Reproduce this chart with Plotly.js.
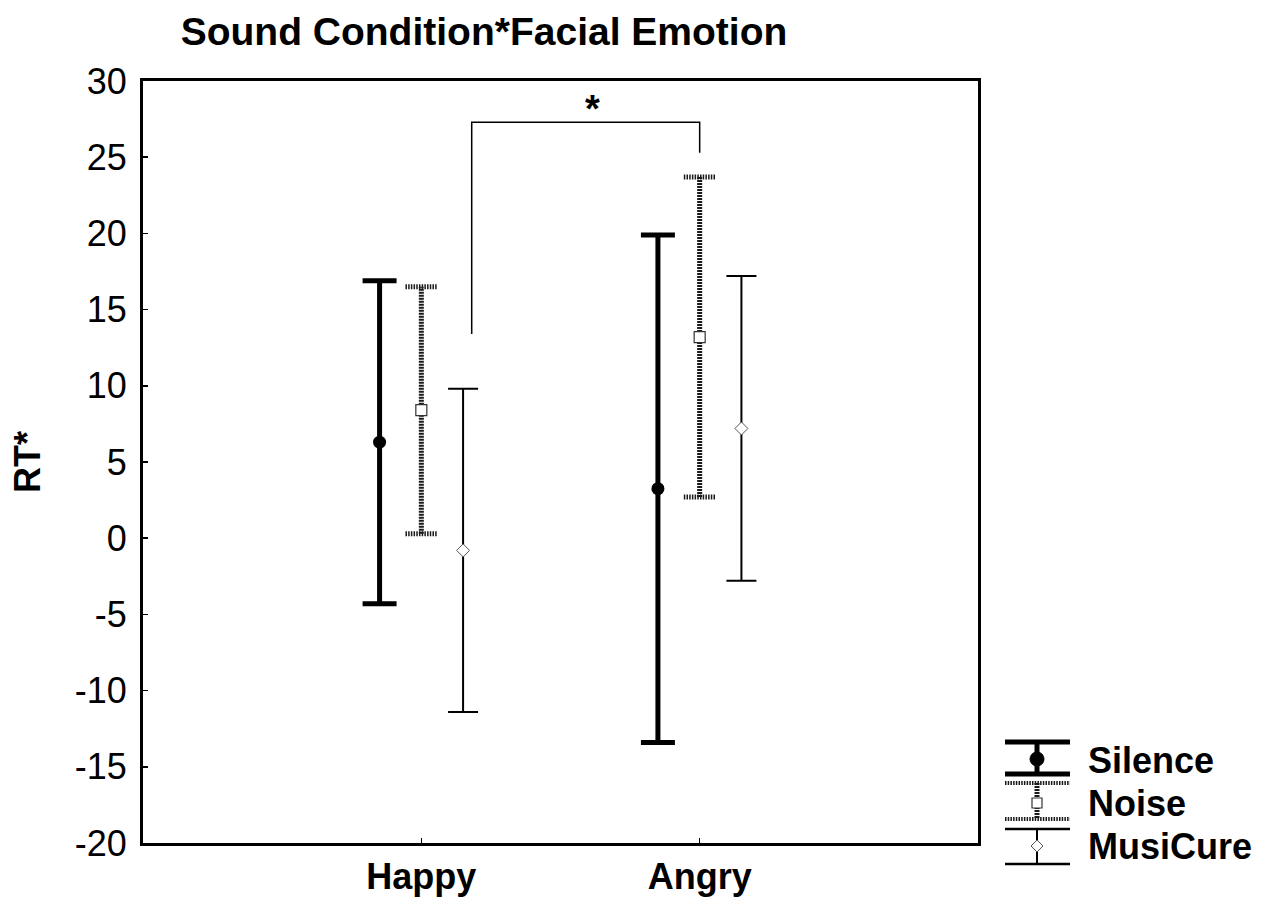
<!DOCTYPE html>
<html>
<head>
<meta charset="utf-8">
<script src="https://cdn.plot.ly/plotly-3.0.1.min.js"></script>
<style>html,body{margin:0;padding:0;background:#fff;}#chart{width:1269px;height:900px;}</style>
</head>
<body>
<div id="chart"></div>
<script>
// ---- data ----
const categories = ['Happy', 'Angry'];
const silenceMean = [6.3, 3.25];
const silenceErr = [10.6, 16.65];
const noiseMean = [8.4, 13.2];
const noiseErr = [8.1, 10.5];
const musicureMean = [-0.8, 7.2];
const musicureErr = [10.6, 10.0];
const seriesNames = ['Silence', 'Noise', 'MusiCure'];
const yTicks = [-20, -15, -10, -5, 0, 5, 10, 15, 20, 25, 30];
const bracketX = [0.181, 0.181, 1.0, 1.0];
const bracketY = [13.4, 27.3, 27.3, 25.3];
const starPos = [0.614, 27.3];
const starLabel = '*';

// ---- layout helpers ----
const offsets = [-0.15, 0, 0.15];
const catIdx = categories.map((c, i) => i);
const xs = k => catIdx.map(i => i + offsets[k]);
const FONT = 'Liberation Sans, Arial, sans-serif';

const L = 143, R = 978, T = 81, B = 843;
const px = x => (x - L) / (R - L);
const py = y => (B - y) / (B - T);

// Noise hatched bars built from data
const nx = xs(1);
const noiseVX = [], noiseVY = [], noiseCX = [], noiseCY = [];
const capHalf = 0.057;
nx.forEach((x, i) => {
  const lo = noiseMean[i] - noiseErr[i], hi = noiseMean[i] + noiseErr[i];
  noiseVX.push(x, x, null); noiseVY.push(lo, hi, null);
  noiseCX.push(x - capHalf, x + capHalf, null, x - capHalf, x + capHalf, null);
  noiseCY.push(lo, lo, null, hi, hi, null);
});

const traces = [
  {
    x: xs(0), y: silenceMean, type: 'scatter', mode: 'markers', name: seriesNames[0],
    marker: {symbol: 'circle', size: 13, color: '#000'},
    error_y: {type: 'data', array: silenceErr, visible: true, color: '#000', thickness: 5, width: 17},
    showlegend: false, cliponaxis: false
  },
  {
    x: noiseVX, y: noiseVY, type: 'scatter', mode: 'lines', showlegend: false,
    line: {color: '#1a1a1a', width: 5, dash: '2px,1px'}, hoverinfo: 'skip'
  },
  {
    x: noiseCX, y: noiseCY, type: 'scatter', mode: 'lines', showlegend: false,
    line: {color: '#1a1a1a', width: 5, dash: '1.5px,1.2px'}, hoverinfo: 'skip'
  },
  {
    x: nx, y: noiseMean, type: 'scatter', mode: 'markers', name: seriesNames[1],
    marker: {symbol: 'square', size: 11, color: '#fff', line: {color: '#333', width: 1.2}},
    showlegend: false
  },
  {
    x: xs(2), y: musicureMean, type: 'scatter', mode: 'markers', name: seriesNames[2],
    marker: {symbol: 'diamond', size: 10, color: '#fff', line: {color: '#555', width: 1}},
    error_y: {type: 'data', array: musicureErr, visible: true, color: '#000', thickness: 2, width: 15},
    showlegend: false
  },
  {
    x: bracketX, y: bracketY, type: 'scatter', mode: 'lines', showlegend: false,
    line: {color: '#000', width: 1.5}, hoverinfo: 'skip'
  }
];

// ---- legend (drawn) ----
const lx0 = 1005, lx1 = 1070, lxc = 1037;
const shapes = [];
function seg(x0, y0, x1, y1, width, dash, color) {
  shapes.push({type: 'line', xref: 'paper', yref: 'paper', x0: px(x0), y0: py(y0), x1: px(x1), y1: py(y1),
    line: {color: color || '#000', width: width, dash: dash || 'solid'}});
}
// Silence
seg(lxc, 742, lxc, 774, 5);
seg(lx0, 742, lx1, 742, 5);
seg(lx0, 774, lx1, 774, 5);
shapes.push({type: 'circle', xref: 'paper', yref: 'paper', x0: px(lxc - 7), x1: px(lxc + 7), y0: py(766), y1: py(752),
  fillcolor: '#000', line: {color: '#000', width: 1}});
// Noise
seg(lxc, 783, lxc, 819, 5, '2px,1px', '#1a1a1a');
seg(lx0, 783, lx1, 783, 4, '1.5px,1.2px', '#1a1a1a');
seg(lx0, 819, lx1, 819, 4, '1.5px,1.2px', '#1a1a1a');
shapes.push({type: 'rect', xref: 'paper', yref: 'paper', x0: px(lxc - 5), x1: px(lxc + 5), y0: py(808), y1: py(798),
  fillcolor: '#fff', line: {color: '#333', width: 1.2}});
// MusiCure
seg(lxc, 829, lxc, 864, 2);
seg(lx0, 829, lx1, 829, 2.5);
seg(lx0, 864, lx1, 864, 2.5);
{
  const cx = px(lxc), cy = py(846), dx = px(lxc + 6) - px(lxc), dy = py(840) - py(846);
  shapes.push({type: 'path', xref: 'paper', yref: 'paper',
    path: `M ${cx - dx} ${cy} L ${cx} ${cy + dy} L ${cx + dx} ${cy} L ${cx} ${cy - dy} Z`,
    fillcolor: '#fff', line: {color: '#555', width: 1}});
}

const legendY = [760, 803, 846];
const annotations = seriesNames.map((n, i) => ({
  xref: 'paper', yref: 'paper', x: px(1086), y: py(legendY[i]), xanchor: 'left', yanchor: 'middle',
  text: '<b>' + n + '</b>', showarrow: false, font: {family: FONT, size: 36, color: '#000'}
}));
annotations.push({
  xref: 'x', yref: 'y', x: starPos[0], y: starPos[1], yanchor: 'bottom', xanchor: 'center',
  text: '<b>' + starLabel + '</b>', showarrow: false, yshift: -10, font: {family: FONT, size: 38, color: '#000'}
});

const layout = {
  width: 1269, height: 900, autosize: false,
  paper_bgcolor: '#fff', plot_bgcolor: '#fff',
  margin: {l: L, r: 1269 - R, t: T, b: 900 - B, pad: 0},
  showlegend: false,
  title: {text: '<b>Sound Condition*Facial Emotion</b>', x: 484 / 1269, xanchor: 'center', xref: 'container',
    y: 1 - 31 / 900, yanchor: 'middle', yref: 'container', font: {family: FONT, size: 39, color: '#000'}},
  xaxis: {range: [-1, 2], tickvals: catIdx, ticktext: categories.map(c => '<b>' + c + '</b>'),
    ticks: 'inside', ticklen: 5, tickwidth: 1.5, tickcolor: '#000',
    showline: true, linecolor: '#000', linewidth: 3, mirror: true, showgrid: false, zeroline: false,
    tickfont: {family: FONT, size: 36, color: '#000'}, ticklabelstandoff: 0, fixedrange: true},
  yaxis: {range: [-20, 30], tickvals: yTicks, ticktext: yTicks.map(String),
    ticks: 'inside', ticklen: 5, tickwidth: 1.5, tickcolor: '#000',
    showline: true, linecolor: '#000', linewidth: 3, mirror: true, showgrid: false, zeroline: false,
    tickfont: {family: FONT, size: 36, color: '#000'}, ticklabelstandoff: 6,
    title: {text: '<b>RT*</b>', font: {family: FONT, size: 36, color: '#000'}, standoff: 24}, fixedrange: true},
  shapes: shapes,
  annotations: annotations
};

Plotly.newPlot('chart', traces, layout, {displayModeBar: false, staticPlot: true});
</script>
</body>
</html>
